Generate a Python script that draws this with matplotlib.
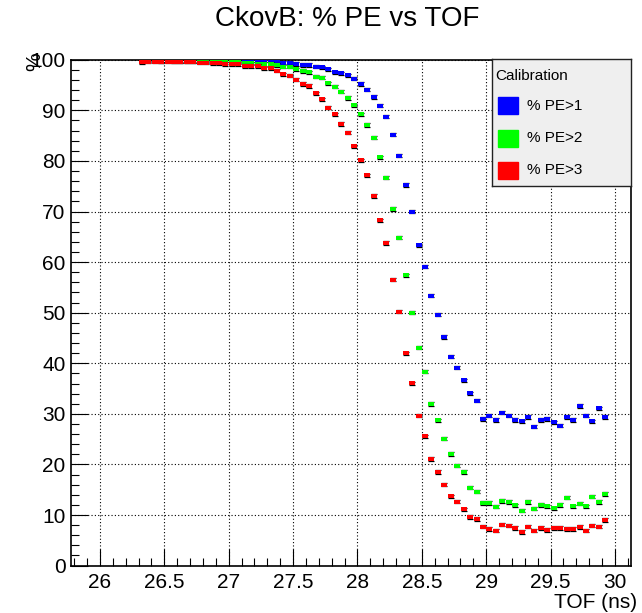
import numpy as np
import matplotlib
matplotlib.use("Agg")
import matplotlib.pyplot as plt
from matplotlib.ticker import MultipleLocator
from matplotlib.patches import Rectangle
from matplotlib.path import Path

plt.rcParams['font.family'] = ['Liberation Sans', 'DejaVu Sans']

# ---------------- data ----------------
tof_start = 26.325
tof_step = 0.05
n_bins = 73
tof = tof_start + tof_step * np.arange(n_bins)

pe1 = [99.9, 99.95, 99.95, 99.9, 99.95, 99.95, 99.9, 99.95, 99.9, 99.9,
       99.9, 99.85, 99.85, 99.85, 99.85, 99.8, 99.8, 99.8, 99.85, 99.85,
       99.75, 99.6, 99.43, 99.43, 99.17, 98.97, 98.97, 98.62, 98.5, 98.15,
       97.55, 97.32, 96.93, 96.27, 95.22, 94.10, 92.65, 90.93, 88.76, 85.20,
       81.04, 75.25, 69.98, 63.32, 59.10, 53.37, 49.58, 45.20, 41.31, 39.13,
       36.63, 34.06, 32.61, 28.98, 29.64, 28.79, 30.24, 29.64, 28.79, 28.52,
       29.38, 27.47, 28.79, 28.98, 28.33, 27.67, 29.38, 28.79, 31.55, 29.64,
       28.52, 31.09, 29.38]

pe2 = [99.65, 100.0, 99.8, 99.76, 99.8, 99.76, 99.76, 99.76, 99.76, 99.76,
       99.76, 99.57, 99.57, 99.57, 99.57, 99.5, 99.3, 99.3, 99.17, 99.17,
       99.17, 98.97, 98.64, 98.64, 98.12, 97.79, 97.52, 96.66, 96.47, 95.35,
       94.69, 93.70, 92.45, 91.0, 89.22, 87.1, 84.6, 80.75, 76.7, 70.5,
       64.83, 57.39, 49.97, 43.09, 38.34, 31.95, 28.72, 25.10, 22.06, 19.76,
       18.51, 15.41, 14.62, 12.38, 12.38, 11.65, 12.77, 12.57, 11.92, 10.86,
       12.57, 11.26, 11.98, 11.72, 11.32, 11.98, 13.43, 11.72, 12.24, 11.72,
       13.63, 12.57, 14.16]

pe3 = [99.55, 99.6, 99.6, 99.6, 99.6, 99.6, 99.6, 99.6, 99.6, 99.43,
       99.43, 99.3, 99.3, 99.17, 99.1, 99.1, 98.77, 98.77, 98.77, 98.31,
       98.31, 97.85, 97.1, 96.85, 96.03, 95.22, 94.82, 93.37, 92.19, 90.54,
       89.22, 87.31, 85.6, 82.93, 80.16, 77.16, 73.07, 68.24, 63.8, 56.53,
       50.2, 41.97, 36.04, 29.64, 25.56, 21.08, 18.51, 16.00, 13.69, 12.64,
       11.12, 9.61, 9.21, 7.70, 7.24, 6.91, 8.09, 7.89, 7.43, 6.64,
       7.70, 6.91, 7.43, 7.04, 7.43, 7.43, 7.24, 7.24, 7.63, 6.91,
       7.89, 7.70, 9.02]

pct_err = 0.32

series_labels = ["% PE>1", "% PE>2", "% PE>3"]
series_colors = ["#0000ff", "#00ff00", "#ff0000"]

title = "CkovB: % PE vs TOF"
xlabel = "TOF (ns)"
ylabel = "%"
legend_title = "Calibration"

# ---------------- figure ----------------
W, H = 642, 613
fig = plt.figure(figsize=(W / 100, H / 100), dpi=100)
fig.patch.set_facecolor("white")

def fx(px):
    return px / W

def fy(py):
    return 1 - py / H

ax_l, ax_r, ax_t, ax_b = 71, 631, 59.8, 565.6
ax = fig.add_axes([fx(ax_l), fy(ax_b), (ax_r - ax_l) / W, (ax_b - ax_t) / H])
ax.set_xlim(25.775, 30.125)
ax.set_ylim(0, 100)

ax.xaxis.set_major_locator(MultipleLocator(0.5))
ax.xaxis.set_minor_locator(MultipleLocator(0.1))
ax.yaxis.set_major_locator(MultipleLocator(10))
ax.yaxis.set_minor_locator(MultipleLocator(2))
ax.xaxis.set_major_formatter(matplotlib.ticker.FuncFormatter(lambda v, p: f"{v:g}"))

ax.tick_params(which="major", direction="in", length=12, width=0.8,
               labelsize=15, top=False, right=False)
ax.tick_params(which="minor", direction="in", length=6, width=0.8,
               top=False, right=False)
ax.tick_params(axis="x", which="major", pad=5)
ax.tick_params(axis="y", which="major", pad=4)

ax.grid(True, which="major", color="black", linestyle=(0, (1, 2)), linewidth=0.8)
ax.set_axisbelow(True)
for s in ax.spines.values():
    s.set_linewidth(1.2)
    s.set_color("black")

# flat rectangular marker (ROOT-like small box)
rect_marker = Path([(-1, -0.5), (1, -0.5), (1, 0.5), (-1, 0.5), (-1, -0.5)],
                   [Path.MOVETO, Path.LINETO, Path.LINETO, Path.LINETO, Path.CLOSEPOLY])

order = [0, 2, 1]
data = [pe1, pe2, pe3]
for k in order:
    ax.errorbar(tof, data[k], yerr=pct_err, fmt="none",
                ecolor="black", elinewidth=0.7, capsize=2.2, capthick=0.9,
                zorder=3 + k)
    ax.plot(tof, data[k], linestyle="none", marker=rect_marker, ms=4.6,
            color=series_colors[k], mec=series_colors[k], mew=0,
            zorder=3.5 + k)

# titles
fig.text(fx(347), fy(19), title, ha="center", va="center", fontsize=20)
fig.text(fx(637), fy(593), xlabel, ha="right", va="top", fontsize=15)
fig.text(fx(35), fy(52), ylabel, ha="center", va="top", rotation=90, fontsize=15)

# legend box (ROOT style)
lg_l, lg_r, lg_t, lg_b = 491.7, 631, 59.3, 186
lax = fig.add_axes([fx(lg_l), fy(lg_b), (lg_r - lg_l) / W, (lg_b - lg_t) / H])
lax.set_xlim(lg_l, lg_r)
lax.set_ylim(lg_b, lg_t)
lax.set_facecolor("#efefef")
lax.set_xticks([])
lax.set_yticks([])
for s in lax.spines.values():
    s.set_linewidth(1.0)
    s.set_color("#222222")
lax.text(495, 75.7, legend_title, ha="left", va="center", fontsize=11)
row_y = [106, 138.3, 170]
for lab, col, yy in zip(series_labels, series_colors, row_y):
    lax.add_patch(Rectangle((498.3, yy - 8.5), 19.4, 17, facecolor=col,
                            edgecolor=col))
    lax.text(526.7, yy, lab, ha="left", va="center", fontsize=11)

fig.savefig("out.png", dpi=100)
